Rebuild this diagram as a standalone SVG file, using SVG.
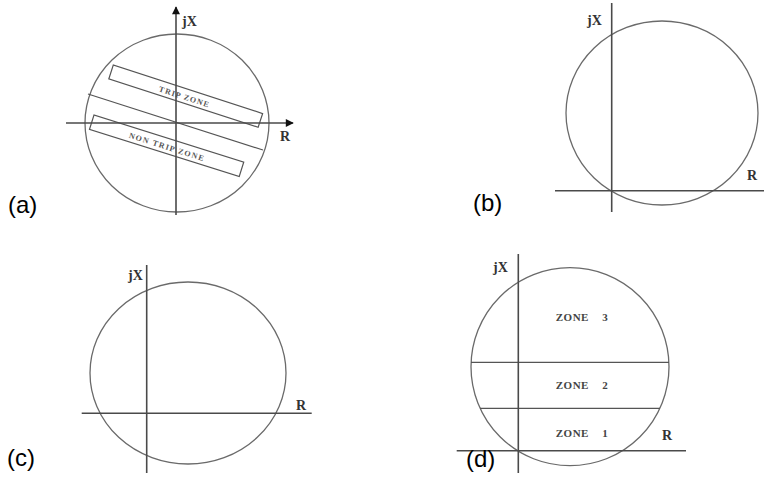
<svg xmlns="http://www.w3.org/2000/svg" width="764" height="482" viewBox="0 0 764 482">
<style>
.bg{fill:#fff}
.ax{stroke:#4a4a4a;stroke-width:1.6;fill:none}
.cir{stroke:#6a6a6a;stroke-width:1.3;fill:none}
.ln{stroke:#555;stroke-width:1.2;fill:none}
.lbl{font-family:"Liberation Serif","Times New Roman",serif;font-weight:bold;font-size:14px;fill:#333}
.zone{font-family:"Liberation Serif","Times New Roman",serif;font-weight:bold;font-size:11px;fill:#444;word-spacing:10px;letter-spacing:0.5px}
.small{font-family:"Liberation Serif","Times New Roman",serif;font-weight:bold;font-size:8px;fill:#555}
.cap{font-family:"Liberation Sans",Arial,sans-serif;font-size:24px;fill:#000}
</style>
<defs>
<marker id="arrA" viewBox="0 0 10 10" refX="9" refY="5" markerWidth="10" markerHeight="8" markerUnits="userSpaceOnUse" orient="auto">
<path d="M0,0 L10,5 L0,10 z" fill="#111"/>
</marker>
</defs>
<rect class="bg" width="764" height="482"/>

<g id="panel-a">
<ellipse class="cir" cx="177" cy="123" rx="92" ry="89"/>
<g id="a-trip-zone">
<rect class="ln" x="0" y="0" width="157" height="14.5" transform="translate(113.3,65) rotate(18)"/>
<text class="small" text-anchor="middle" x="0" y="3" textLength="52" transform="translate(184,96.5) rotate(18)">TRIP ZONE</text>
</g>
<g id="a-nontrip-zone">
<rect class="ln" x="0" y="0" width="157" height="15" transform="translate(94,115) rotate(17.5)"/>
<text class="small" text-anchor="middle" x="0" y="3" textLength="78" transform="translate(166.5,146.5) rotate(17.5)">NON TRIP ZONE</text>
</g>
<line class="ln" x1="88" y1="94" x2="263" y2="150"/>
<g id="a-axes">
<line class="ax" x1="176" y1="215" x2="176" y2="7" marker-end="url(#arrA)"/>
<line class="ax" x1="66" y1="123" x2="293" y2="123" marker-end="url(#arrA)"/>
</g>
<text class="lbl" x="182" y="26">jX</text>
<text class="lbl" x="280" y="141">R</text>
<text class="cap" x="8" y="212.5">(a)</text>
</g>

<g id="panel-b">
<ellipse class="cir" cx="662" cy="113" rx="96" ry="92"/>
<g id="b-axes">
<line class="ax" x1="611.7" y1="3" x2="611.7" y2="212"/>
<line class="ax" x1="555" y1="190.7" x2="764" y2="190.7"/>
</g>
<text class="lbl" x="587" y="25">jX</text>
<text class="lbl" x="747" y="180">R</text>
<text class="cap" x="473" y="211">(b)</text>
</g>

<g id="panel-c">
<ellipse class="cir" cx="188" cy="373" rx="98" ry="91"/>
<g id="c-axes">
<line class="ax" x1="146.7" y1="265" x2="146.7" y2="473"/>
<line class="ax" x1="81.7" y1="413.3" x2="311.7" y2="413.3"/>
</g>
<text class="lbl" x="128" y="280">jX</text>
<text class="lbl" x="296" y="410">R</text>
<text class="cap" x="7" y="465.5">(c)</text>
</g>

<g id="panel-d">
<circle class="cir" cx="570" cy="366.7" r="99"/>
<line class="ln" x1="471" y1="362.3" x2="669" y2="362.3"/>
<line class="ln" x1="480" y1="408.3" x2="660" y2="408.3"/>
<g id="d-axes">
<line class="ax" x1="518.3" y1="254" x2="518.3" y2="473"/>
<line class="ax" x1="456.7" y1="450.7" x2="686" y2="450.7"/>
</g>
<text class="lbl" x="493" y="272">jX</text>
<text class="lbl" x="662" y="440">R</text>
<g id="zone3"><text class="zone" text-anchor="middle" x="582" y="321">ZONE 3</text></g>
<g id="zone2"><text class="zone" text-anchor="middle" x="582" y="389">ZONE 2</text></g>
<g id="zone1"><text class="zone" text-anchor="middle" x="582" y="437">ZONE 1</text></g>
<text class="cap" x="466" y="467">(d)</text>
</g>
</svg>
